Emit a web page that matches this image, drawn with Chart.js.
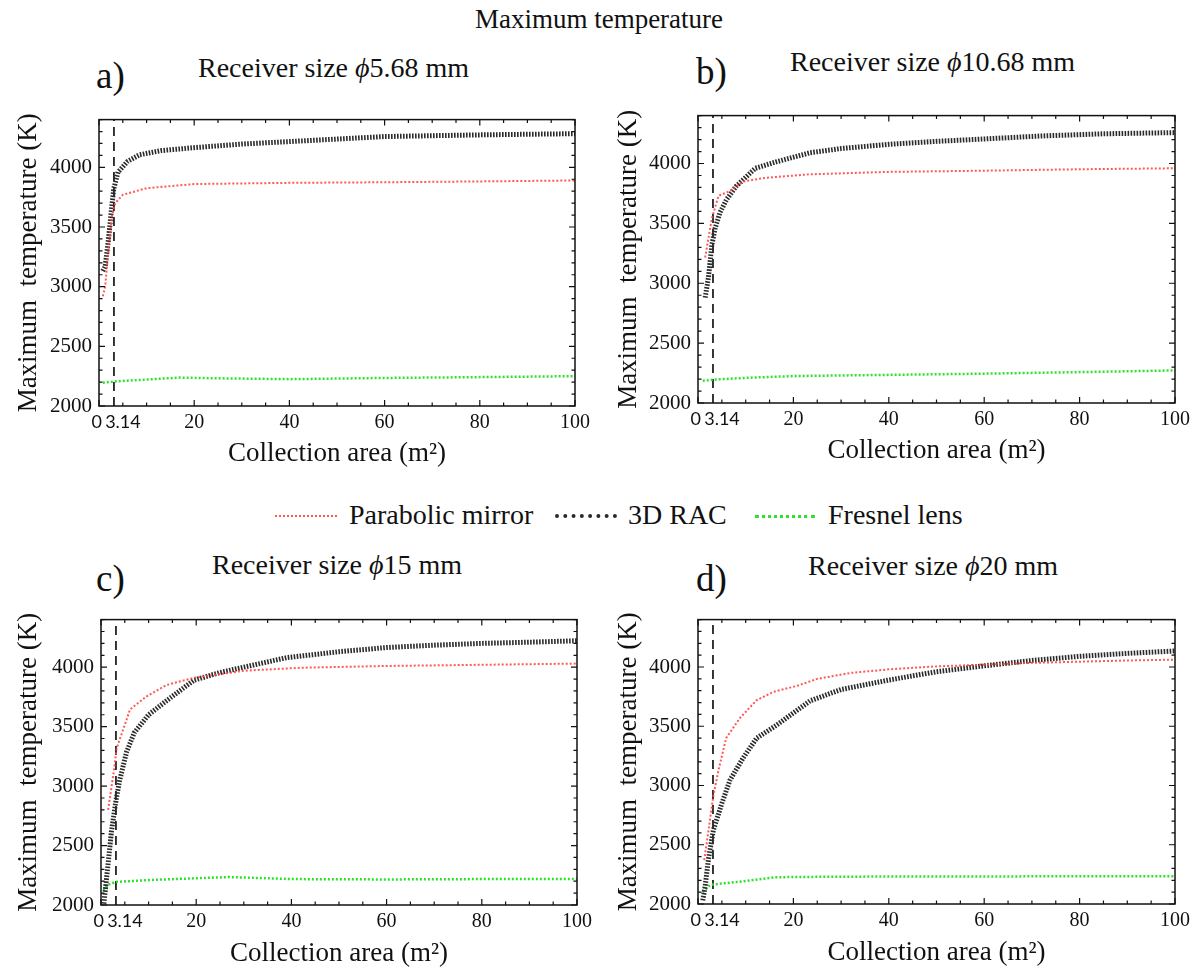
<!DOCTYPE html>
<html lang="en">
<head>
<meta charset="UTF-8">
<title>Maximum temperature</title>
<script src="https://cdn.jsdelivr.net/npm/chart.js"></script>
<style>
    body {
        margin: 0;
        background: #fff;
        font-family: "Liberation Serif", "DejaVu Serif", serif;
        color: #111;
    }

    #page {
        position: relative;
        width: 1198px;
        height: 976px;
        overflow: hidden;
    }

    #page canvas {
        position: absolute;
    }

    .txt {
        position: absolute;
        line-height: 1;
        white-space: nowrap;
        transform: translateY(-50%);
    }

    .main-title {
        left: 0;
        width: 1198px;
        text-align: center;
        font-size: 27px;
    }

    .panel-tag {
        font-size: 37px;
    }

    .sub {
        font-size: 28px;
    }

    .leg {
        font-size: 28px;
    }

    .sample {
        position: absolute;
        height: 0;
    }
</style>
</head>
<body>
<div id="page">
    <div class="txt main-title" style="top: 19px;">Maximum temperature</div>

    <div class="txt panel-tag" style="left: 96px; top: 75px;">a)</div>
    <div class="txt sub" style="left: 198px; top: 68px;">Receiver size <i>ϕ</i>5.68 mm</div>
    <div class="txt panel-tag" style="left: 696px; top: 71px;">b)</div>
    <div class="txt sub" style="left: 790px; top: 62px;">Receiver size <i>ϕ</i>10.68 mm</div>
    <div class="txt panel-tag" style="left: 96px; top: 578px;">c)</div>
    <div class="txt sub" style="left: 212px; top: 565px;">Receiver size <i>ϕ</i>15 mm</div>
    <div class="txt panel-tag" style="left: 696px; top: 578px;">d)</div>
    <div class="txt sub" style="left: 808px; top: 566px;">Receiver size <i>ϕ</i>20 mm</div>

    <!-- shared legend -->
    <div class="sample" style="left: 275px; top: 515px; width: 62px; border-top: 2px dotted rgba(255,70,70,0.9);"></div>
    <div class="txt leg" style="left: 349px; top: 515px;">Parabolic mirror</div>
    <div class="sample" style="left: 555px; top: 514px; width: 62px; border-top: 4px dotted #2a2a2a;"></div>
    <div class="txt leg" style="left: 628px; top: 515px;">3D RAC</div>
    <div class="sample" style="left: 755px; top: 515px; width: 60px; border-top: 3px dotted #2fe02f;"></div>
    <div class="txt leg" style="left: 828px; top: 515px;">Fresnel lens</div>

    <canvas id="chartA" width="600" height="372" style="left: 0; top: 100px;"></canvas>
    <canvas id="chartB" width="598" height="373" style="left: 600px; top: 96px;"></canvas>
    <canvas id="chartC" width="600" height="372" style="left: 0; top: 600px;"></canvas>
    <canvas id="chartD" width="598" height="371" style="left: 600px; top: 600px;"></canvas>
</div>

<script>
    // axis values
    const xMin = 0, xMax = 100;
    const yMin = 2000, yMax = 4400;
    const xTickValues = [0, 3.14, 20, 40, 60, 80, 100];
    const yTickValues = [2000, 2500, 3000, 3500, 4000];
    const xMinorStep = 5, xMajorStep = 20;
    const yMinorStep = 100, yMajorStep = 500;
    const markerArea = 3.14;

    // [collection area m2, max temperature K]
    const parabolicA = [[0.8, 2920], [1.3, 3000], [2, 3320], [2.7, 3590], [3.4, 3700], [5, 3770], [10, 3825], [20, 3860], [40, 3870], [60, 3875], [80, 3882], [100, 3890]];
    const racA = [[0.8, 3130], [1.3, 3170], [2, 3400], [2.7, 3680], [3.1, 3820], [4, 3960], [6, 4050], [8.5, 4105], [13, 4140], [20, 4165], [30, 4195], [42, 4220], [60, 4258], [80, 4272], [100, 4282]];
    const fresnelA = [[0.8, 2195], [3.14, 2205], [10, 2222], [17, 2238], [25, 2232], [40, 2225], [60, 2235], [80, 2242], [100, 2250]];

    const parabolicB = [[1.5, 3215], [2.2, 3380], [2.9, 3540], [4.3, 3730], [6.7, 3770], [9.5, 3850], [14, 3880], [23.5, 3910], [40, 3930], [60, 3940], [80, 3952], [100, 3960]];
    const racB = [[1.5, 2880], [2.2, 3050], [2.9, 3320], [3.6, 3460], [4.6, 3590], [6, 3700], [8, 3810], [12, 3960], [16.5, 4015], [23.5, 4090], [30, 4125], [40, 4160], [50, 4185], [60, 4205], [72, 4230], [85, 4248], [100, 4258]];
    const fresnelB = [[1, 2185], [3.14, 2195], [10, 2210], [20, 2225], [40, 2235], [60, 2245], [80, 2258], [100, 2272]];

    const parabolicC = [[1.5, 2800], [2.6, 3100], [3.3, 3320], [4.7, 3480], [6.1, 3645], [9.6, 3755], [13.8, 3850], [19.4, 3910], [30, 3970], [42, 3995], [60, 4010], [80, 4020], [100, 4030]];
    const racC = [[0.6, 2010], [1.5, 2350], [2.2, 2620], [3.15, 2880], [3.9, 3045], [5.4, 3290], [7, 3450], [10, 3600], [14, 3725], [19.5, 3890], [25, 3955], [30, 4000], [39, 4080], [50, 4130], [60, 4165], [70, 4185], [80, 4200], [90, 4210], [100, 4222]];
    const fresnelC = [[0.5, 2120], [1.5, 2170], [3.14, 2195], [6, 2200], [10, 2210], [20, 2225], [27, 2235], [35, 2225], [40, 2218], [60, 2215], [80, 2218], [100, 2218]];

    const parabolicD = [[1.3, 2370], [2.2, 2620], [3.2, 2910], [4.3, 3130], [5.9, 3400], [8.8, 3570], [12.3, 3720], [15.8, 3790], [20.7, 3840], [25, 3900], [32, 3950], [40, 3980], [50, 4005], [60, 4020], [70, 4035], [80, 4045], [90, 4055], [100, 4062]];
    const racD = [[1, 2030], [1.5, 2150], [2.2, 2380], [3.2, 2620], [5, 2850], [6.7, 3045], [9.5, 3235], [12.3, 3400], [16.5, 3510], [23.5, 3715], [30, 3810], [40, 3890], [50, 3960], [60, 4010], [70, 4055], [80, 4090], [90, 4115], [100, 4135]];
    const fresnelD = [[1, 2100], [2.5, 2160], [3.14, 2165], [8, 2185], [16, 2225], [20, 2228], [40, 2232], [60, 2232], [80, 2235], [100, 2235]];

    const serif = '"Liberation Serif", "DejaVu Serif", serif';
    const sans = 'Lato, "Liberation Sans", sans-serif';

    const toPoints = arr => arr.map(p => ({ x: p[0], y: p[1] }));

    // Mathematica style frame with inward ticks on every side
    const frameTicks = {
        id: 'frameTicks',
        afterDatasetsDraw(chart) {
            const { ctx, chartArea: a, scales: { x, y } } = chart;
            ctx.save();
            ctx.strokeStyle = '#111';
            ctx.lineWidth = 1.2;
            ctx.beginPath();
            for (let v = xMin; v <= xMax; v += xMinorStep) {
                const px = x.getPixelForValue(v);
                const len = v % xMajorStep === 0 ? 6 : 3.5;
                ctx.moveTo(px, a.bottom);
                ctx.lineTo(px, a.bottom - len);
                ctx.moveTo(px, a.top);
                ctx.lineTo(px, a.top + len);
            }
            for (let v = yMin; v <= yMax; v += yMinorStep) {
                const py = y.getPixelForValue(v);
                const len = v % yMajorStep === 0 ? 6 : 3.5;
                ctx.moveTo(a.left, py);
                ctx.lineTo(a.left + len, py);
                ctx.moveTo(a.right, py);
                ctx.lineTo(a.right - len, py);
            }
            ctx.stroke();
            ctx.lineWidth = 1.5;
            ctx.strokeRect(a.left, a.top, a.right - a.left, a.bottom - a.top);
            ctx.restore();
        }
    };

    function makePanel(canvasId, parabolic, rac, fresnel, lay) {
        return new Chart(document.getElementById(canvasId), {
            type: 'line',
            data: {
                datasets: [
                    {
                        label: 'Parabolic mirror',
                        data: toPoints(parabolic),
                        borderColor: 'rgba(255,70,70,0.9)',
                        borderWidth: 2,
                        borderDash: [2, 2],
                        pointRadius: 0,
                        fill: false
                    },
                    {
                        label: '3D RAC',
                        data: toPoints(rac),
                        borderColor: '#2a2a2a',
                        borderWidth: 5,
                        borderDash: [1.6, 1.4],
                        pointRadius: 0,
                        fill: false
                    },
                    {
                        label: 'Fresnel lens',
                        data: toPoints(fresnel),
                        borderColor: '#2fe02f',
                        borderWidth: 2.5,
                        borderDash: [2, 2],
                        pointRadius: 0,
                        fill: false
                    },
                    {
                        label: 'A = 3.14',
                        data: [{ x: markerArea, y: yMin }, { x: markerArea, y: yMax }],
                        borderColor: '#222',
                        borderWidth: 1.8,
                        borderDash: [9, 6],
                        pointRadius: 0,
                        fill: false
                    }
                ]
            },
            options: {
                responsive: false,
                animation: false,
                layout: { padding: { top: lay.top, right: lay.right, bottom: 0, left: 0 } },
                plugins: {
                    legend: { display: false },
                    tooltip: { enabled: false }
                },
                scales: {
                    x: {
                        type: 'linear',
                        min: xMin,
                        max: xMax,
                        afterBuildTicks: s => { s.ticks = xTickValues.map(v => ({ value: v })); },
                        afterFit: s => { s.height = lay.xh; },
                        grid: { display: false, drawTicks: false },
                        border: { display: false },
                        ticks: {
                            autoSkip: false,
                            maxRotation: 0,
                            padding: 5,
                            color: '#111',
                            font: c => (c.tick && c.tick.value < 5)
                                ? { family: sans, size: 18 }
                                : { family: serif, size: 20 },
                            callback: v => v === 3.14 ? '\u2002\u20023.14' : (v === 0 ? '0\u2005' : String(v))
                        },
                        title: {
                            display: true,
                            text: 'Collection area (m²)',
                            color: '#111',
                            font: { family: serif, size: 27 },
                            padding: { top: 0, bottom: 2 }
                        }
                    },
                    y: {
                        type: 'linear',
                        min: yMin,
                        max: yMax,
                        afterBuildTicks: s => { s.ticks = yTickValues.map(v => ({ value: v })); },
                        afterFit: s => { s.width = lay.yw; },
                        grid: { display: false, drawTicks: false },
                        border: { display: false },
                        ticks: {
                            padding: 7,
                            color: '#111',
                            font: { family: serif, size: 21 },
                            callback: v => String(v)
                        },
                        title: {
                            display: true,
                            text: 'Maximum  temperature (K)',
                            color: '#111',
                            font: { family: serif, size: 27 },
                            padding: { top: 13, bottom: 0 }
                        }
                    }
                }
            },
            plugins: [frameTicks]
        });
    }

    makePanel('chartA', parabolicA, racA, fresnelA, { top: 11, right: 25, yw: 99, xh: 66 });
    makePanel('chartB', parabolicB, racB, fresnelB, { top: 11, right: 23, yw: 98, xh: 66 });
    makePanel('chartC', parabolicC, racC, fresnelC, { top: 10, right: 23, yw: 101, xh: 67 });
    makePanel('chartD', parabolicD, racD, fresnelD, { top: 11, right: 23, yw: 98, xh: 67 });
</script>
</body>
</html>
